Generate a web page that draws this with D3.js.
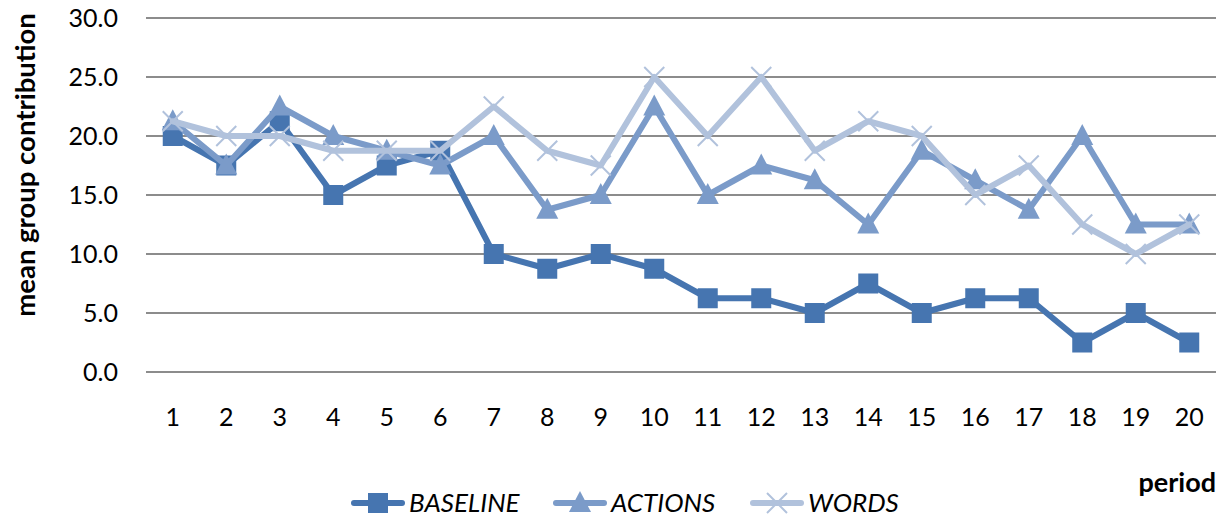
<!DOCTYPE html>
<html>
<head>
<meta charset="utf-8">
<script src="https://cdn.jsdelivr.net/npm/d3@7"></script>
<style>
  html, body { margin: 0; padding: 0; background: #fff; }
  svg { display: block; }
  text { font-family: Lato, "Open Sans", sans-serif; }
</style>
</head>
<body>
<svg id="chart" width="1227" height="521"></svg>
<script>
// Mean group contribution per period, by treatment
const periods = ["1","2","3","4","5","6","7","8","9","10","11","12","13","14","15","16","17","18","19","20"];
const baseline = [20, 17.5, 21.25, 15, 17.5, 18.75, 10, 8.75, 10, 8.75, 6.25, 6.25, 5, 7.5, 5, 6.25, 6.25, 2.5, 5, 2.5];
const actions  = [21.25, 17.5, 22.5, 20, 18.75, 17.5, 20, 13.75, 15, 22.5, 15, 17.5, 16.25, 12.5, 18.75, 16.25, 13.75, 20, 12.5, 12.5];
const words    = [21.25, 20, 20, 18.75, 18.75, 18.75, 22.5, 18.75, 17.5, 25, 20, 25, 18.75, 21.25, 20, 15, 17.5, 12.5, 10, 12.5];
const yTicks = [0, 5, 10, 15, 20, 25, 30];

const seriesNames = ["BASELINE", "ACTIONS", "WORDS"];
const seriesValues = [baseline, actions, words];
const seriesColors = ["#4675b0", "#7b9bc9", "#b1c2dc"];
const seriesMarkers = ["square", "triangle", "cross"];

const svg = d3.select("#chart");
const plotLeft = 146, plotRight = 1216, plotTop = 18, plotBottom = 372;
const fontStack = "Lato, 'Open Sans', sans-serif";

const x = d3.scaleBand().domain(periods).range([plotLeft, plotRight]);
const y = d3.scaleLinear().domain([0, 30]).range([plotBottom, plotTop]);

// Horizontal gridlines
svg.append("g").selectAll("line").data(yTicks).join("line")
  .attr("x1", plotLeft).attr("x2", plotRight)
  .attr("y1", d => y(d)).attr("y2", d => y(d))
  .attr("stroke", "#8c8c8c").attr("stroke-width", 2);

// Y axis labels
const yAxis = d3.axisLeft(y).tickValues(yTicks).tickFormat(d3.format(".1f")).tickSize(0).tickPadding(28);
const gy = svg.append("g").attr("transform", `translate(${plotLeft},0)`).call(yAxis);
gy.select(".domain").remove();
gy.selectAll("text").attr("font-size", 25).attr("fill", "#000")
  .style("font-family", fontStack);

// X axis labels
const xAxis = d3.axisBottom(x).tickSize(0).tickPadding(36);
const gx = svg.append("g").attr("transform", `translate(0,${plotBottom})`).call(xAxis);
gx.select(".domain").remove();
gx.selectAll("text").attr("font-size", 25).attr("fill", "#000")
  .style("font-family", fontStack);

// Axis titles
svg.append("text")
  .attr("transform", `translate(35,165) rotate(-90)`)
  .attr("text-anchor", "middle")
  .attr("font-size", 27.5).attr("font-weight", "bold")
  .text("mean group contribution");

svg.append("text")
  .attr("x", 1216).attr("y", 492)
  .attr("text-anchor", "end")
  .attr("font-size", 27).attr("font-weight", "bold")
  .text("period");

function drawMarker(g, type, color, cx, cy) {
  if (type === "square") {
    g.append("rect").attr("x", cx - 10).attr("y", cy - 10)
      .attr("width", 20).attr("height", 20).attr("fill", color);
  } else if (type === "triangle") {
    g.append("path")
      .attr("d", `M${cx},${cy - 12} L${cx + 11},${cy + 9} L${cx - 11},${cy + 9} Z`)
      .attr("fill", color);
  } else {
    g.append("path")
      .attr("d", `M${cx - 10},${cy - 10} L${cx + 10},${cy + 10} M${cx + 10},${cy - 10} L${cx - 10},${cy + 10}`)
      .attr("stroke", color).attr("stroke-width", 2).attr("fill", "none");
  }
}

const line = d3.line()
  .x((d, i) => x(periods[i]) + x.bandwidth() / 2)
  .y(d => y(d));

seriesValues.forEach((vals, s) => {
  const g = svg.append("g");
  g.append("path").datum(vals)
    .attr("d", line)
    .attr("fill", "none")
    .attr("stroke", seriesColors[s])
    .attr("stroke-width", 6)
    .attr("stroke-linejoin", "round")
    .attr("stroke-linecap", "round");
  vals.forEach((v, i) => {
    drawMarker(g, seriesMarkers[s], seriesColors[s], x(periods[i]) + x.bandwidth() / 2, y(v));
  });
});

// Legend
const legendX = [354, 556, 753];
const legendY = 503;
seriesNames.forEach((name, s) => {
  const g = svg.append("g");
  const lx = legendX[s];
  g.append("line").attr("x1", lx).attr("x2", lx + 48)
    .attr("y1", legendY).attr("y2", legendY)
    .attr("stroke", seriesColors[s]).attr("stroke-width", 6).attr("stroke-linecap", "round");
  drawMarker(g, seriesMarkers[s], seriesColors[s], lx + 24, legendY);
  g.append("text").attr("x", lx + 55).attr("y", legendY + 9)
    .attr("font-size", 26).attr("font-style", "italic")
    .text(name);
});
</script>
</body>
</html>
